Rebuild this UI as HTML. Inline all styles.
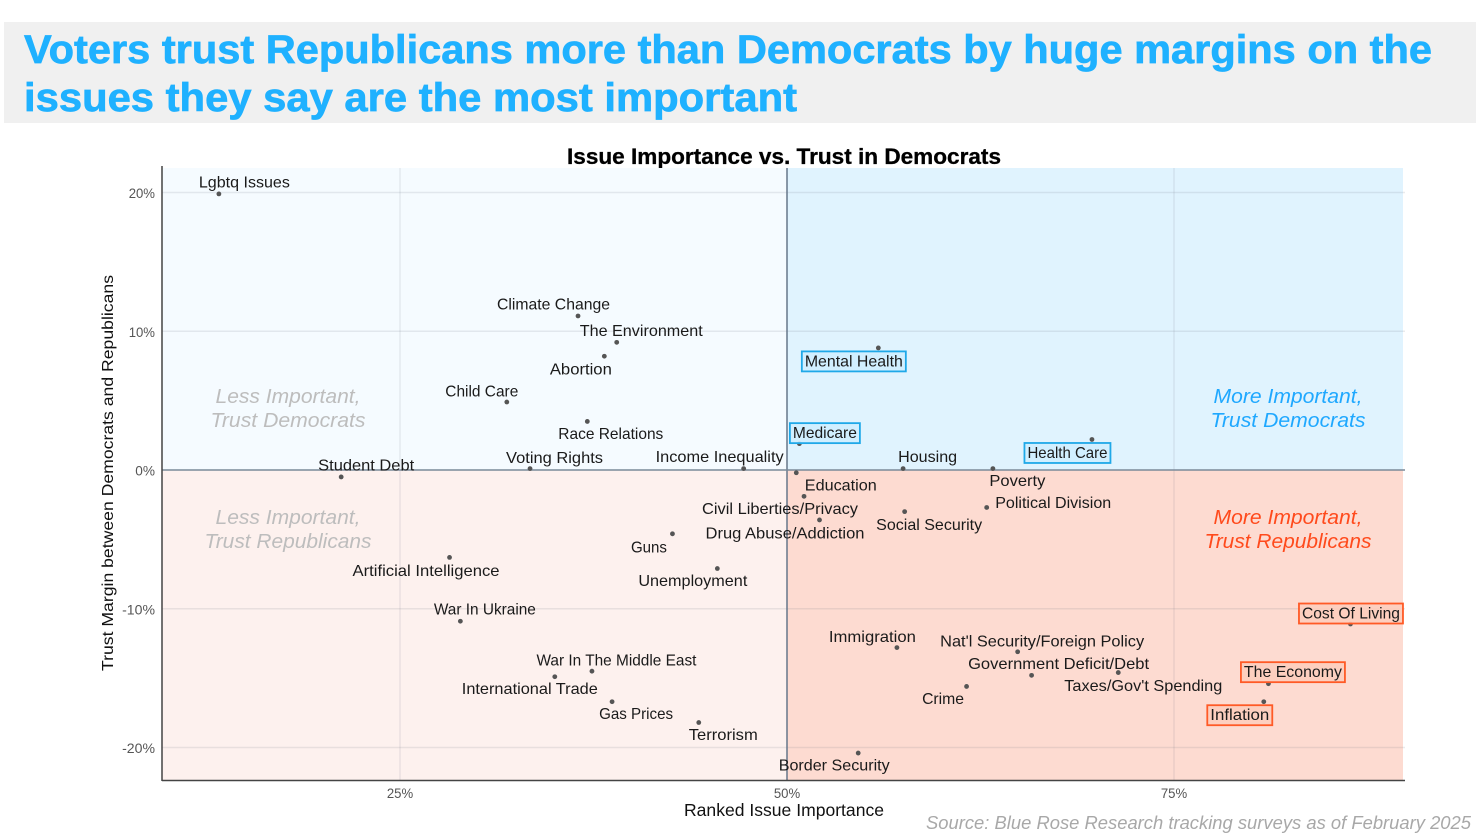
<!DOCTYPE html>
<html lang="en">
<head>
<meta charset="utf-8">
<title>Issue Importance vs. Trust in Democrats</title>
<style>
  html, body { margin: 0; padding: 0; background: #fff; }
  body { width: 1476px; height: 840px; overflow: hidden; }
  svg { display: block; font-family: "Liberation Sans", sans-serif; }
</style>
</head>
<body>
<svg id="chart" width="1476" height="840" viewBox="0 0 1476 840" xmlns="http://www.w3.org/2000/svg">
  <rect x="4" y="22" width="1472" height="101" fill="#f0f0f0"/>
  <text x="24" y="63" font-size="40" font-weight="700" fill="#1fb1ff" stroke="#1fb1ff" stroke-width="0.7" textLength="1408" lengthAdjust="spacingAndGlyphs">Voters trust Republicans more than Democrats by huge margins on the</text>
  <text x="24" y="111" font-size="40" font-weight="700" fill="#1fb1ff" stroke="#1fb1ff" stroke-width="0.7" textLength="773" lengthAdjust="spacingAndGlyphs">issues they say are the most important</text>
  <text x="567" y="164" font-size="22" font-weight="700" fill="#000" stroke="#000" stroke-width="0.3" textLength="434" lengthAdjust="spacingAndGlyphs">Issue Importance vs. Trust in Democrats</text>
  <g id="plot"></g>
  <text transform="translate(113,473) rotate(-90)" text-anchor="middle" font-size="16" fill="#111" textLength="396" lengthAdjust="spacingAndGlyphs">Trust Margin between Democrats and Republicans</text>
  <text x="784" y="816" text-anchor="middle" font-size="17.5" fill="#111" textLength="200" lengthAdjust="spacingAndGlyphs">Ranked Issue Importance</text>
  <text x="926" y="829" font-size="18.5" font-style="italic" fill="#a8a8a8" textLength="545" lengthAdjust="spacingAndGlyphs">Source: Blue Rose Research tracking surveys as of February 2025</text>
</svg>
<script>
// ---- Chart data ----
const issues = ["Lgbtq Issues","Climate Change","The Environment","Abortion","Child Care","Race Relations","Voting Rights","Income Inequality","Student Debt","Mental Health","Medicare","Housing","Health Care","Poverty","Education","Civil Liberties/Privacy","Drug Abuse/Addiction","Social Security","Political Division","Guns","Unemployment","Artificial Intelligence","War In Ukraine","War In The Middle East","International Trade","Gas Prices","Terrorism","Border Security","Immigration","Nat'l Security/Foreign Policy","Government Deficit/Debt","Taxes/Gov't Spending","Crime","Cost Of Living","The Economy","Inflation"];
const importance = [13.3,36.5,39.0,38.2,31.9,37.1,33.4,47.2,21.2,55.9,50.8,57.5,69.7,63.3,50.6,51.1,52.1,57.6,62.9,42.6,45.5,28.2,28.9,37.4,35.0,38.7,44.3,54.6,57.1,64.9,65.8,71.4,61.6,86.4,81.1,80.8];
const trustMargin = [19.9,11.1,9.2,8.2,4.9,3.5,0.1,0.1,-0.5,8.8,1.9,0.1,2.2,0.1,-0.2,-1.9,-3.6,-3.0,-2.7,-4.6,-7.1,-6.3,-10.9,-14.5,-14.9,-16.7,-18.2,-20.4,-12.8,-13.1,-14.8,-14.6,-15.6,-11.1,-15.4,-16.7];
const highlightedDem = ["Mental Health","Medicare","Health Care"];
const highlightedRep = ["Cost Of Living","The Economy","Inflation"];
const xTicks = [25,50,75];
const yTicks = [20,10,0,-10,-20];

// ---- Axis functions ----
function xScale(v) { return 787 + (v - 50) * 15.48; }
function yScale(v) { return 470 - v * 13.875; }

// ---- Label placement (repel offset from each point, and drawn width) ----
const labelNudge = {
  "Lgbtq Issues":[25,-12,91],"Climate Change":[-25,-12,113],"The Environment":[24,-12,123],"Abortion":[-24,13,62],
  "Child Care":[-25.5,-11,73],"Race Relations":[23,12,105],"Voting Rights":[24,-11,97],"Income Inequality":[-24.5,-12,128],
  "Student Debt":[24.5,-12,96],"Mental Health":[-25,13,98],"Medicare":[25,-11,64],"Housing":[24,-12,59],
  "Health Care":[-25,13,80],"Poverty":[24,12,56],"Education":[44,12,72],"Civil Liberties/Privacy":[-24.5,12,156],
  "Drug Abuse/Addiction":[-35,13,159],"Social Security":[24,13,106],"Political Division":[66,-5,116],"Guns":[-24,13,36],
  "Unemployment":[-25,12,109],"Artificial Intelligence":[-24,13,147],"War In Ukraine":[24,-12,102],"War In The Middle East":[24,-11,160],
  "International Trade":[-25.5,12,136],"Gas Prices":[23.5,12,74],"Terrorism":[24,12,69],"Border Security":[-24.5,12,111],
  "Immigration":[-25,-11,87],"Nat'l Security/Foreign Policy":[24,-11,204],"Government Deficit/Debt":[26.5,-12,181],"Taxes/Gov't Spending":[24.5,13,158],
  "Crime":[-24,12,42],"Cost Of Living":[0,-11,98],"The Economy":[24,-12,98],"Inflation":[-24.5,13,59]
};

// ---- Drawing ----
const NS = "http://www.w3.org/2000/svg";
const plot = document.getElementById("plot");
function make(tag, attrs, parent) {
  const el = document.createElementNS(NS, tag);
  for (const k in attrs) el.setAttribute(k, attrs[k]);
  (parent || plot).appendChild(el);
  return el;
}
const left = 162, right = 1403, top_ = 168, bottom = 780;
const midX = xScale(50), midY = yScale(0);

const bgTL = make("rect", {x:left, y:top_, width:midX-left, height:midY-top_, fill:"#f5fbff"});


const bgTR = make("rect", {x:midX, y:top_, width:right-midX, height:midY-top_, fill:"#e0f3fe"});


const bgBL = make("rect", {x:left, y:midY, width:midX-left, height:bottom-midY, fill:"#fdf1ee"});


const bgBR = make("rect", {x:midX, y:midY, width:right-midX, height:bottom-midY, fill:"#fddbd1"});



yTicks.forEach(function (t) {
  const y = yScale(t);
  if (t !== 0) {
    const g = make("line", {x1:left, x2:1405, y1:y, y2:y, stroke:"#6b7280", "stroke-opacity":0.14, "stroke-width":1.5});
    
    
  }
  const txt = t + "%";
  const lab = make("text", {x:155, y:y + 0.5, "text-anchor":"end", "dominant-baseline":"central", "font-size":14, fill:"#555", textLength:6.6 * txt.length + 6.5, lengthAdjust:"spacingAndGlyphs"});
  lab.textContent = txt;
  
  
});
xTicks.forEach(function (t) {
  const x = xScale(t);
  if (t !== 50) {
    const g = make("line", {x1:x, x2:x, y1:top_, y2:bottom, stroke:"#6b7280", "stroke-opacity":0.13, "stroke-width":1.5});
    
    
  }
  const txt = t + "%";
  const lab = make("text", {x:x, y:793, "text-anchor":"middle", "dominant-baseline":"central", "font-size":14, fill:"#555", textLength:6.6 * txt.length + 6.5, lengthAdjust:"spacingAndGlyphs"});
  lab.textContent = txt;
  
  
});

const refV = make("line", {x1:midX, x2:midX, y1:top_, y2:bottom, stroke:"#66778a", "stroke-width":1.5});


const refH = make("line", {x1:left, x2:1405, y1:midY, y2:midY, stroke:"#7a8a99", "stroke-width":1.5});


const axisY = make("line", {x1:left, x2:left, y1:166, y2:781, stroke:"#444", "stroke-width":1.5});


const axisX = make("line", {x1:left, x2:1405, y1:780.5, y2:780.5, stroke:"#444", "stroke-width":1.5});



function quadrantNote(lines, cx, y1, fill, widths) {
  lines.forEach(function (line, i) {
    const t = make("text", {x:cx, y:y1 + i * 24, "text-anchor":"middle", "dominant-baseline":"central", "font-size":20, "font-style":"italic", fill:fill, textLength:widths[i], lengthAdjust:"spacingAndGlyphs"});
    t.textContent = line;
    
    
  });
}
quadrantNote(["Less Important,","Trust Democrats"], 288, 397, "#bdbdbd", [145,155]);
quadrantNote(["Less Important,","Trust Republicans"], 288, 518, "#bdbdbd", [145,167]);
quadrantNote(["More Important,","Trust Democrats"], 1288, 397, "#1fa8ff", [149,155]);
quadrantNote(["More Important,","Trust Republicans"], 1288, 518, "#ff4a1c", [149,167]);

issues.forEach(function (name, i) {
  const px = xScale(importance[i]);
  const py = yScale(trustMargin[i]);
  const n = labelNudge[name];
  const lx = px + n[0] + 0.5, ly = py + n[1] + 1, w = n[2];

  const dot = make("circle", {cx:px, cy:py, r:2.4, fill:"#555"});
  
  

  const isDem = highlightedDem.indexOf(name) !== -1;
  const isRep = highlightedRep.indexOf(name) !== -1;
  if (isDem || isRep) {
    const box = make("rect", {x:lx - w/2 - 3, y:ly - 10.5, width:w + 6, height:20,
      fill: isDem ? "#cfeeff" : "#fdcdbd", "fill-opacity":0.9,
      stroke: isDem ? "#1fa8e8" : "#ff5a26", "stroke-width":1.8});
    
    
  }
  const label = make("text", {x:lx, y:ly, "text-anchor":"middle", "dominant-baseline":"central", "font-size":16, fill:"#1a1a1a", textLength:w, lengthAdjust:"spacingAndGlyphs"});
  label.textContent = name;
  
  
});
</script>
</body>
</html>
